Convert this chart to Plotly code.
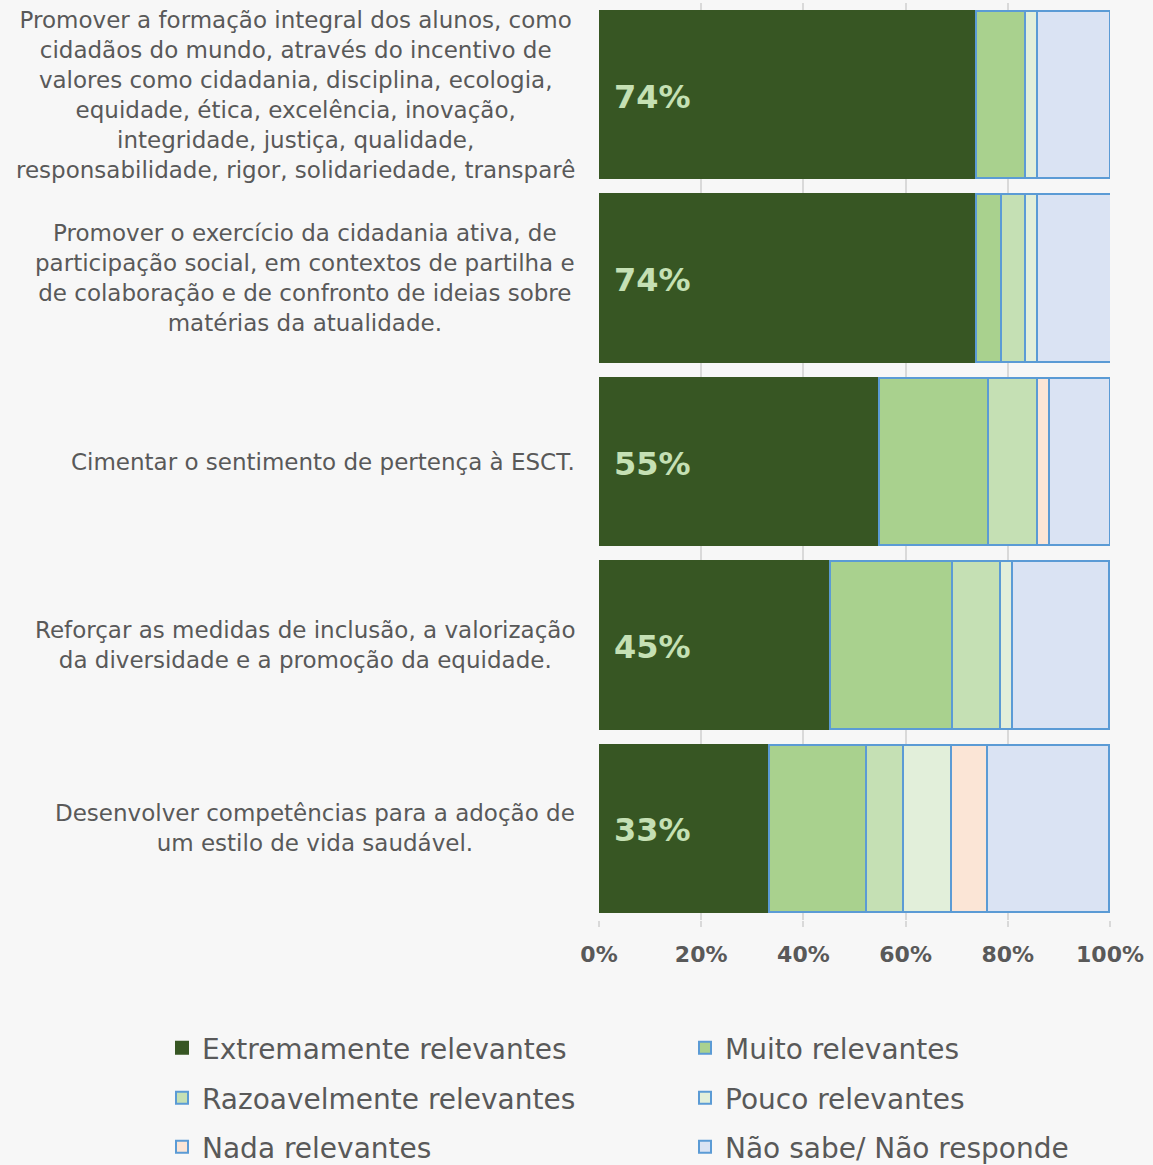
import plotly.graph_objects as go

categories = [
    "Promover a formação integral dos alunos, como<br>cidadãos do mundo, através do incentivo de<br>valores como cidadania, disciplina, ecologia,<br>equidade, ética, excelência, inovação,<br>integridade, justiça, qualidade,<br>responsabilidade, rigor, solidariedade, transparê",
    "Promover o exercício da cidadania ativa, de<br>participação social, em contextos de partilha e<br>de colaboração e de confronto de ideias sobre<br>matérias da atualidade.",
    "Cimentar o sentimento de pertença à ESCT.",
    "Reforçar as medidas de inclusão, a valorização<br>da diversidade e a promoção da equidade.",
    "Desenvolver competências para a adoção de<br>um estilo de vida saudável.",
]

series_names = [
    "Extremamente relevantes",
    "Muito relevantes",
    "Razoavelmente relevantes",
    "Pouco relevantes",
    "Nada relevantes",
    "Não sabe/ Não responde",
]

extremamente = [73.8, 73.8, 54.8, 45.2, 33.3]
muito = [9.5, 4.8, 21.4, 23.8, 19.0]
razoavelmente = [0.0, 4.8, 9.5, 9.5, 7.1]
pouco = [2.4, 2.4, 0.0, 2.4, 9.5]
nada = [0.0, 0.0, 2.4, 0.0, 7.1]
nao_sabe = [14.3, 14.3, 11.9, 19.0, 23.8]

tick_vals = [0, 20, 40, 60, 80, 100]
tick_text = ["0%", "20%", "40%", "60%", "80%", "100%"]

colors = ["#375623", "#a9d18e", "#c5e0b4", "#e2efda", "#fbe5d6", "#dae3f3"]
line_colors = ["#375623", "#5b9bd5", "#5b9bd5", "#5b9bd5", "#5b9bd5", "#5b9bd5"]
all_series = [extremamente, muito, razoavelmente, pouco, nada, nao_sabe]

FONT = "DejaVu Sans"
TXT = "#595959"
W, H = 1153, 1165

# legend placement (two columns, three rows)
leg_x = [162, 685]
leg_y = [1048, 1098, 1147]

fig = go.Figure()
legend_layouts = {}
for i, (name, vals) in enumerate(zip(series_names, all_series)):
    lid = "legend" if i == 0 else f"legend{i + 1}"
    fig.add_trace(go.Bar(
        y=categories, x=vals, name=name, orientation="h",
        marker=dict(color=colors[i], line=dict(color=line_colors[i], width=2)),
        hoverinfo="skip", legend=lid, showlegend=True,
    ))
    legend_layouts[lid] = dict(
        orientation="v", xref="container", yref="container",
        x=leg_x[i % 2] / W, xanchor="left",
        y=(H - leg_y[i // 2]) / H, yanchor="middle",
        font=dict(family=FONT, size=28, color=TXT),
        bgcolor="rgba(0,0,0,0)", visible=True,
    )

# data labels for the first series, anchored at the bar start
for c, v in zip(categories, extremamente):
    fig.add_annotation(
        xref="x", yref="y", x=0, y=c, text=f"{round(v)}%", showarrow=False,
        xanchor="left", xshift=13, yshift=-2,
        font=dict(family=FONT, size=32, color="#c5e0b4", weight="bold"),
    )

# category labels, centred multi-line text right of the axis
for c in categories:
    fig.add_annotation(
        xref="paper", yref="y", x=0, y=c, text=c, showarrow=False,
        xanchor="right", align="center", xshift=-22,
        font=dict(family=FONT, size=23, color=TXT),
    )

fig.update_layout(
    showlegend=True,
    barmode="stack",
    bargap=0.087,
    width=W, height=H,
    paper_bgcolor="#f7f7f7", plot_bgcolor="#f7f7f7",
    margin=dict(l=599, r=43, t=3, b=245, autoexpand=False),
    xaxis=dict(
        range=[0, 100], tickvals=tick_vals, ticktext=tick_text,
        showgrid=True, gridcolor="#d9d9d9", gridwidth=1.5,
        ticks="outside", ticklen=6, tickcolor="#d9d9d9", tickwidth=1.5,
        showline=False, zeroline=False,
        tickfont=dict(family=FONT, size=22, color=TXT, weight="bold"),
        ticklabelstandoff=9,
    ),
    yaxis=dict(
        autorange="reversed", showticklabels=False, showgrid=False,
        showline=False, zeroline=False,
    ),
    **legend_layouts,
)

fig.write_html("out.html", config={"displayModeBar": False},
               post_script="document.body.style.margin='0';")
